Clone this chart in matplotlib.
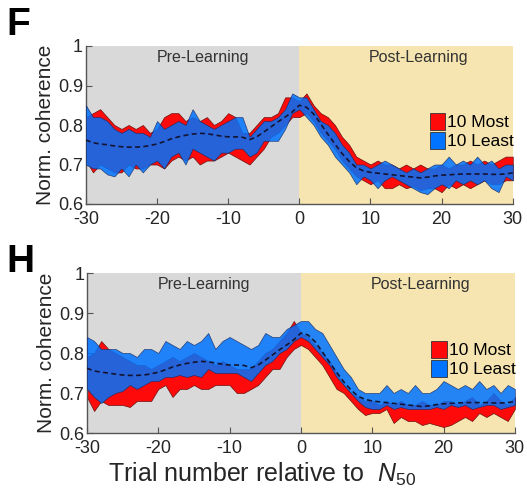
import numpy as np
import matplotlib
matplotlib.use("Agg")
import matplotlib.pyplot as plt
from matplotlib.patches import Patch

plt.rcParams['font.family'] = ['Liberation Sans', 'DejaVu Sans']
plt.rcParams['mathtext.fontset'] = 'custom'
plt.rcParams['mathtext.it'] = 'Liberation Sans:italic'
plt.rcParams['mathtext.rm'] = 'Liberation Sans'
plt.rcParams['axes.unicode_minus'] = False

trials = np.arange(-30, 31)

# panel F
f_most_hi = [0.82, 0.83, 0.84, 0.82, 0.80, 0.79, 0.80, 0.79, 0.80, 0.78, 0.79, 0.82, 0.83, 0.83, 0.81, 0.82,
             0.81, 0.82, 0.80, 0.81, 0.83, 0.82, 0.78, 0.78, 0.80, 0.82, 0.82, 0.83, 0.87, 0.87, 0.86, 0.88,
             0.85, 0.83, 0.82, 0.80, 0.77, 0.75, 0.72, 0.71, 0.70, 0.71, 0.70, 0.70, 0.69, 0.70, 0.69, 0.70,
             0.69, 0.69, 0.70, 0.69, 0.70, 0.70, 0.71, 0.70, 0.71, 0.70, 0.71, 0.72, 0.72]
f_most_lo = [0.71, 0.68, 0.70, 0.69, 0.68, 0.68, 0.70, 0.69, 0.69, 0.70, 0.70, 0.69, 0.71, 0.72, 0.71, 0.72,
             0.70, 0.71, 0.71, 0.72, 0.73, 0.72, 0.71, 0.70, 0.72, 0.74, 0.77, 0.78, 0.80, 0.82, 0.82, 0.83,
             0.81, 0.78, 0.76, 0.74, 0.71, 0.69, 0.67, 0.66, 0.65, 0.66, 0.64, 0.64, 0.65, 0.64, 0.645, 0.635,
             0.64, 0.64, 0.63, 0.65, 0.64, 0.65, 0.64, 0.65, 0.66, 0.65, 0.65, 0.66, 0.66]
f_least_hi = [0.85, 0.82, 0.82, 0.81, 0.79, 0.78, 0.79, 0.78, 0.78, 0.77, 0.81, 0.79, 0.80, 0.81, 0.80, 0.84,
              0.81, 0.80, 0.79, 0.80, 0.81, 0.82, 0.82, 0.77, 0.79, 0.81, 0.81, 0.82, 0.84, 0.88, 0.87, 0.87,
              0.84, 0.81, 0.80, 0.78, 0.75, 0.73, 0.70, 0.70, 0.69, 0.70, 0.71, 0.70, 0.69, 0.68, 0.69, 0.68,
              0.69, 0.70, 0.70, 0.72, 0.70, 0.71, 0.70, 0.72, 0.70, 0.71, 0.69, 0.70, 0.70]
f_least_lo = [0.70, 0.69, 0.69, 0.675, 0.67, 0.69, 0.67, 0.70, 0.68, 0.70, 0.71, 0.69, 0.72, 0.73, 0.70, 0.74,
              0.73, 0.72, 0.71, 0.73, 0.73, 0.74, 0.74, 0.72, 0.73, 0.76, 0.76, 0.76, 0.79, 0.83, 0.84, 0.82,
              0.80, 0.77, 0.75, 0.72, 0.70, 0.68, 0.65, 0.67, 0.66, 0.64, 0.66, 0.67, 0.66, 0.65, 0.64, 0.63,
              0.625, 0.64, 0.65, 0.64, 0.66, 0.65, 0.66, 0.65, 0.66, 0.64, 0.63, 0.67, 0.66]

# panel H
h_most_hi = [0.79, 0.80, 0.83, 0.81, 0.80, 0.79, 0.78, 0.77, 0.77, 0.76, 0.77, 0.78, 0.79, 0.78, 0.79, 0.80,
             0.79, 0.78, 0.77, 0.78, 0.77, 0.76, 0.76, 0.76, 0.78, 0.80, 0.81, 0.83, 0.85, 0.88, 0.85, 0.84,
             0.82, 0.80, 0.78, 0.75, 0.72, 0.70, 0.69, 0.68, 0.68, 0.67, 0.68, 0.67, 0.68, 0.67, 0.67, 0.68,
             0.67, 0.67, 0.68, 0.68, 0.67, 0.68, 0.69, 0.67, 0.68, 0.70, 0.68, 0.67, 0.69]
h_most_lo = [0.69, 0.655, 0.68, 0.67, 0.67, 0.67, 0.665, 0.68, 0.68, 0.68, 0.71, 0.72, 0.69, 0.71, 0.71, 0.72,
             0.71, 0.71, 0.72, 0.72, 0.72, 0.70, 0.70, 0.71, 0.72, 0.74, 0.76, 0.76, 0.79, 0.81, 0.82, 0.81,
             0.79, 0.77, 0.74, 0.71, 0.70, 0.68, 0.66, 0.645, 0.65, 0.65, 0.66, 0.625, 0.64, 0.63, 0.63, 0.62,
             0.625, 0.62, 0.615, 0.62, 0.63, 0.64, 0.63, 0.65, 0.64, 0.65, 0.64, 0.63, 0.66]
h_least_hi = [0.84, 0.83, 0.81, 0.81, 0.81, 0.80, 0.80, 0.79, 0.81, 0.81, 0.80, 0.83, 0.82, 0.81, 0.83, 0.82,
              0.83, 0.85, 0.81, 0.83, 0.84, 0.83, 0.82, 0.81, 0.82, 0.85, 0.84, 0.84, 0.86, 0.87, 0.88, 0.88,
              0.86, 0.85, 0.82, 0.79, 0.76, 0.74, 0.71, 0.70, 0.70, 0.70, 0.72, 0.70, 0.71, 0.70, 0.72, 0.70,
              0.70, 0.71, 0.73, 0.72, 0.71, 0.72, 0.71, 0.73, 0.71, 0.72, 0.70, 0.72, 0.71]
h_least_lo = [0.71, 0.69, 0.675, 0.69, 0.70, 0.705, 0.72, 0.71, 0.72, 0.73, 0.73, 0.74, 0.74, 0.745, 0.74, 0.745,
              0.74, 0.76, 0.75, 0.75, 0.75, 0.75, 0.74, 0.73, 0.75, 0.77, 0.78, 0.80, 0.81, 0.83, 0.84, 0.83,
              0.81, 0.79, 0.77, 0.74, 0.72, 0.70, 0.68, 0.665, 0.66, 0.66, 0.67, 0.66, 0.665, 0.66, 0.66, 0.66,
              0.66, 0.665, 0.66, 0.67, 0.665, 0.67, 0.66, 0.665, 0.67, 0.67, 0.66, 0.665, 0.67]

# smoothed mean across all animals (same in both panels)
mean_curve = [0.762, 0.755, 0.752, 0.750, 0.747, 0.745, 0.744, 0.744, 0.745, 0.748, 0.752, 0.758, 0.765, 0.770,
              0.774, 0.777, 0.779, 0.778, 0.775, 0.772, 0.770, 0.770, 0.769, 0.763, 0.770, 0.782, 0.795, 0.808,
              0.820, 0.833, 0.850, 0.845, 0.828, 0.803, 0.777, 0.752, 0.728, 0.708, 0.692, 0.684, 0.680, 0.678,
              0.676, 0.674, 0.672, 0.670, 0.668, 0.666, 0.668, 0.671, 0.673, 0.674, 0.675, 0.676, 0.676, 0.676,
              0.676, 0.675, 0.675, 0.676, 0.679]

panels = [
    ("F", f_most_hi, f_most_lo, f_least_hi, f_least_lo, [0.163, 0.592, 0.810, 0.316], 0.930),
    ("H", h_most_hi, h_most_lo, h_least_hi, h_least_lo, [0.165, 0.134, 0.812, 0.320], 0.455),
]

RED = '#ff0a0a'
BLUE = '#0073ff'
GRAY_BG = '#d9d9d9'
TAN_BG = '#f6e5b0'
TXT = '#262626'

fig = plt.figure(figsize=(5.27, 5.0), dpi=100)

for letter, m_hi, m_lo, l_hi, l_lo, rect, letter_y in panels:
    ax = fig.add_axes(rect)
    ax.axvspan(-30, 0, color=GRAY_BG, lw=0, zorder=0)
    ax.axvspan(0, 30, color=TAN_BG, lw=0, zorder=0)

    ax.fill_between(trials, m_lo, m_hi, facecolor=RED, edgecolor='#6a1010', lw=0.5, zorder=2)
    ax.fill_between(trials, l_lo, l_hi, facecolor=BLUE, alpha=0.85, edgecolor='#1a2a60', lw=0.5, zorder=3)
    ax.plot(trials, mean_curve, color='#141432', lw=1.2, ls=(0, (3, 2)), zorder=4)

    ax.text(-13.6, 0.99, 'Pre-Learning', ha='center', va='top', fontsize=11.5, color='#333333')
    ax.text(16.8, 0.99, 'Post-Learning', ha='center', va='top', fontsize=11.5, color='#333333')

    ax.set_xlim(-30, 30)
    ax.set_ylim(0.6, 1.0)
    ax.set_xticks(np.arange(-30, 31, 10))
    ax.set_yticks([0.6, 0.7, 0.8, 0.9, 1.0])
    ax.set_yticklabels(['0.6', '0.7', '0.8', '0.9', '1'])
    ax.tick_params(direction='in', length=4, width=0.8, labelsize=13, colors='#555555',
                   labelcolor=TXT)
    ax.tick_params(axis='x', pad=5)
    ax.tick_params(axis='y', pad=2)
    for side in ['top', 'right']:
        ax.spines[side].set_visible(False)
    for side in ['left', 'bottom']:
        ax.spines[side].set_color('#555555')
        ax.spines[side].set_linewidth(1.0)
    ax.set_ylabel('Norm. coherence', fontsize=15, color=TXT, labelpad=2)

    handles = [Patch(facecolor=RED, edgecolor='#333333', lw=0.6),
               Patch(facecolor=BLUE, edgecolor='#333333', lw=0.6)]
    ax.legend(handles, ['10 Most', '10 Least'], loc='upper left', bbox_to_anchor=(0.805, 0.575),
              frameon=False, fontsize=12.5, handlelength=0.9, handleheight=1.1,
              handletextpad=0.1, labelspacing=0.1, borderpad=0, borderaxespad=0)

    fig.text(0.012, letter_y, letter, fontsize=28, fontweight='bold', color='black',
             va='baseline', ha='left')

fig.text(0.497, 0.052, r'Trial number relative to  $N_{\mathit{50}}$', ha='center', va='center',
         fontsize=18, color=TXT)

fig.savefig('out.png', dpi=100)
